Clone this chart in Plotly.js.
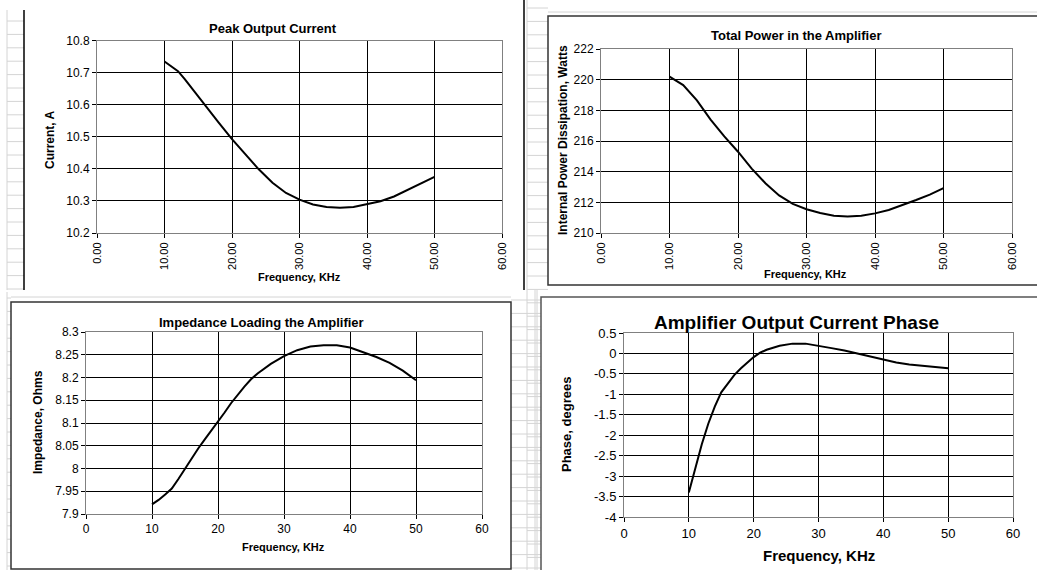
<!DOCTYPE html>
<html>
<head>
<meta charset="utf-8">
<script src="https://cdn.plot.ly/plotly-3.0.1.min.js"></script>
<style>
html,body{margin:0;padding:0;background:#fff;}
#chart{width:1037px;height:570px;}
</style>
</head>
<body>
<div id="chart"></div>
<script>
// ---- Data ----
const freqCurrent = [10, 11, 12, 13, 14, 15, 16, 17, 18, 20, 22, 24, 26, 28, 30, 32, 34, 36, 38, 40, 42, 44, 46, 48, 50];
const peakCurrent = [10.735, 10.72, 10.705, 10.68, 10.653, 10.625, 10.596, 10.569, 10.545, 10.493, 10.447, 10.398, 10.357, 10.325, 10.304, 10.289, 10.281, 10.279, 10.281, 10.289, 10.299, 10.314, 10.335, 10.355, 10.375];

const freqPower = [10, 12, 14, 16, 18, 20, 22, 24, 26, 28, 30, 32, 34, 36, 38, 40, 42, 44, 46, 48, 50];
const totalPower = [220.2, 219.65, 218.65, 217.4, 216.3, 215.3, 214.2, 213.25, 212.45, 211.9, 211.55, 211.3, 211.13, 211.08, 211.12, 211.28, 211.5, 211.8, 212.15, 212.5, 212.93];

const freqImp = [10, 11, 12, 13, 14, 15, 16, 17, 18, 19, 20, 21, 22, 23, 24, 25, 26, 28, 30, 32, 34, 36, 38, 40, 42, 44, 46, 48, 50];
const impedance = [7.921, 7.931, 7.943, 7.956, 7.977, 8.0, 8.022, 8.044, 8.064, 8.083, 8.102, 8.123, 8.144, 8.163, 8.18, 8.196, 8.209, 8.23, 8.247, 8.26, 8.268, 8.271, 8.271, 8.266, 8.256, 8.245, 8.232, 8.215, 8.194];

const freqPhase = [10, 11, 12, 13, 14, 15, 16, 17, 18, 19, 20, 21, 22, 24, 26, 28, 30, 32, 34, 36, 38, 40, 42, 44, 46, 48, 50];
const phase = [-3.4, -2.8, -2.22, -1.72, -1.3, -0.95, -0.73, -0.53, -0.37, -0.23, -0.09, 0.02, 0.09, 0.19, 0.24, 0.24, 0.19, 0.13, 0.07, 0.0, -0.07, -0.15, -0.22, -0.27, -0.3, -0.33, -0.36];

// tick labels
const freqTicks = [0, 10, 20, 30, 40, 50, 60];
const freqTickLabelsDec = ["0.00", "10.00", "20.00", "30.00", "40.00", "50.00", "60.00"];
const freqTickLabelsInt = ["0", "10", "20", "30", "40", "50", "60"];
const phaseTicks = [0.5, 0, -0.5, -1, -1.5, -2, -2.5, -3, -3.5, -4];
const phaseTickLabels = ["0.5", "0", "-0.5", "-1", "-1.5", "-2", "-2.5", "-3", "-3.5", "-4"];

const titles = ["Peak Output Current", "Total Power in the Amplifier", "Impedance Loading the Amplifier", "Amplifier Output Current Phase"];
const yTitles = ["Current, A", "Internal Power Dissipation, Watts", "Impedance, Ohms", "Phase, degrees"];
const xTitle = "Frequency, KHz";

// ---- Layout helpers ----
const W = 1037, H = 570;
const px = v => v / W;
const py = v => 1 - v / H;

const lineStyle = {color: '#000', width: 2};
const traces = [
  {x: freqCurrent, y: peakCurrent, xaxis: 'x', yaxis: 'y', mode: 'lines', line: lineStyle},
  {x: freqPower, y: totalPower, xaxis: 'x2', yaxis: 'y2', mode: 'lines', line: lineStyle},
  {x: freqImp, y: impedance, xaxis: 'x3', yaxis: 'y3', mode: 'lines', line: lineStyle},
  {x: freqPhase, y: phase, xaxis: 'x4', yaxis: 'y4', mode: 'lines', line: lineStyle}
];

const FONT = 'Liberation Sans, Arial, sans-serif';
const NARROW = 'Liberation Sans Narrow, Arial Narrow, Liberation Sans, sans-serif';

function xa(domain, anchor, opts) {
  return Object.assign({
    domain: domain, anchor: anchor, range: [0, 60],
    tickmode: 'array', tickvals: freqTicks, ticktext: freqTickLabelsInt,
    showgrid: true, gridcolor: '#000', gridwidth: 1,
    showline: true, linecolor: '#808080', linewidth: 1, mirror: true,
    ticks: 'outside', ticklen: 4, tickcolor: '#000', zeroline: false,
    tickfont: {family: FONT, size: 11, color: '#000'}, fixedrange: true
  }, opts);
}
function ya(domain, anchor, opts) {
  return Object.assign({
    domain: domain, anchor: anchor,
    showgrid: true, gridcolor: '#000', gridwidth: 1,
    showline: true, linecolor: '#808080', linewidth: 1, mirror: true,
    ticks: 'outside', ticklen: 4, tickcolor: '#000', zeroline: false,
    tickfont: {family: FONT, size: 12, color: '#000'}, fixedrange: true
  }, opts);
}

const layout = {
  width: W, height: H, margin: {l: 0, r: 0, t: 0, b: 0},
  paper_bgcolor: '#fff', plot_bgcolor: '#fff', showlegend: false,
  xaxis: xa([px(97), px(502)], 'y', {tickangle: -90, ticktext: freqTickLabelsDec}),
  yaxis: ya([py(233), py(40.7)], 'x', {range: [10.2, 10.8], dtick: 0.1, tickformat: '.1f'}),
  xaxis2: xa([px(601), px(1012)], 'y2', {tickangle: -90, ticktext: freqTickLabelsDec}),
  yaxis2: ya([py(233), py(49)], 'x2', {range: [210, 222], dtick: 2}),
  xaxis3: xa([px(86), px(482)], 'y3', {tickfont: {family: FONT, size: 12, color: '#000'}}),
  yaxis3: ya([py(514), py(332)], 'x3', {range: [7.9, 8.3], dtick: 0.05}),
  xaxis4: xa([px(624), px(1013)], 'y4', {tickfont: {family: FONT, size: 13, color: '#000'}}),
  yaxis4: ya([py(517), py(333)], 'x4', {range: [-4, 0.5], tickmode: 'array', tickvals: phaseTicks, ticktext: phaseTickLabels,
    tickfont: {family: FONT, size: 13, color: '#000'}}),
  annotations: [],
  shapes: []
};

function ann(text, x, y, size, opts) {
  layout.annotations.push(Object.assign({
    text: text, xref: 'paper', yref: 'paper', x: px(x), y: py(y),
    xanchor: 'center', yanchor: 'middle', showarrow: false,
    font: {family: FONT, size: size, color: '#000'}
  }, opts || {}));
}
// chart titles
ann('<b>' + titles[0] + '</b>', 273, 28, 13);
ann('<b>' + titles[1] + '</b>', 796, 36, 13);
ann('<b>' + titles[2] + '</b>', 261, 322, 13);
ann('<b>' + titles[3] + '</b>', 796, 322, 19);
// x titles
ann('<b>' + xTitle + '</b>', 299, 277, 11);
ann('<b>' + xTitle + '</b>', 805, 274, 11);
ann('<b>' + xTitle + '</b>', 283, 547, 11);
ann('<b>' + xTitle + '</b>', 819, 555, 15);
// y titles
ann('<b>' + yTitles[0] + '</b>', 50, 140, 12, {textangle: -90, font: {family: NARROW, size: 12, color: '#000'}});
ann('<b>' + yTitles[1] + '</b>', 563, 140, 12, {textangle: -90, font: {family: NARROW, size: 12, color: '#000'}});
ann('<b>' + yTitles[2] + '</b>', 38, 422, 12, {textangle: -90, font: {family: NARROW, size: 12, color: '#000'}});
ann('<b>' + yTitles[3] + '</b>', 566, 425, 13, {textangle: -90});

// spreadsheet background and chart frames (decoration)
function line(x0, y0, x1, y1, color, width) {
  layout.shapes.push({type: 'line', xref: 'paper', yref: 'paper', layer: 'below',
    x0: px(x0), y0: py(y0), x1: px(x1), y1: py(y1), line: {color: color, width: width}});
}
function rect(x0, y0, x1, y1, color, width) {
  layout.shapes.push({type: 'rect', xref: 'paper', yref: 'paper', layer: 'below',
    x0: px(x0), y0: py(y0), x1: px(x1), y1: py(y1), line: {color: color, width: width}, fillcolor: '#fff'});
}
const gridGray = '#d4d4d4';
for (let y = 21; y < 290; y += 13.4) line(7, y, 24, y, gridGray, 1);
line(7, 10, 7, 290, gridGray, 1);
for (let y = 298; y < 570; y += 13.4) line(7, y, 11, y, gridGray, 1);
line(7, 292, 7, 570, gridGray, 1);
for (let y = 8; y < 570; y += 13.4) { line(527, y, 548, y, gridGray, 1); }
for (let y = 300; y < 570; y += 13.4) { line(511, y, 541, y, gridGray, 1); }
line(527, 0, 527, 570, gridGray, 1);
line(535, 290, 535, 570, gridGray, 1);
line(537, 290, 537, 570, gridGray, 1);
line(548, 12, 1037, 12, gridGray, 1);
line(11, 297, 511, 297, gridGray, 1);
line(24, 10, 24, 290, '#000', 1.5);
line(524, 0, 524, 290, '#000', 1.5);
rect(548, 16, 1040, 285, '#333', 1.5);
rect(11, 302, 511, 569, '#333', 1.5);
rect(541, 297, 1040, 575, '#555', 1.5);

Plotly.newPlot('chart', traces, layout, {displayModeBar: false, staticPlot: true});
</script>
</body>
</html>
